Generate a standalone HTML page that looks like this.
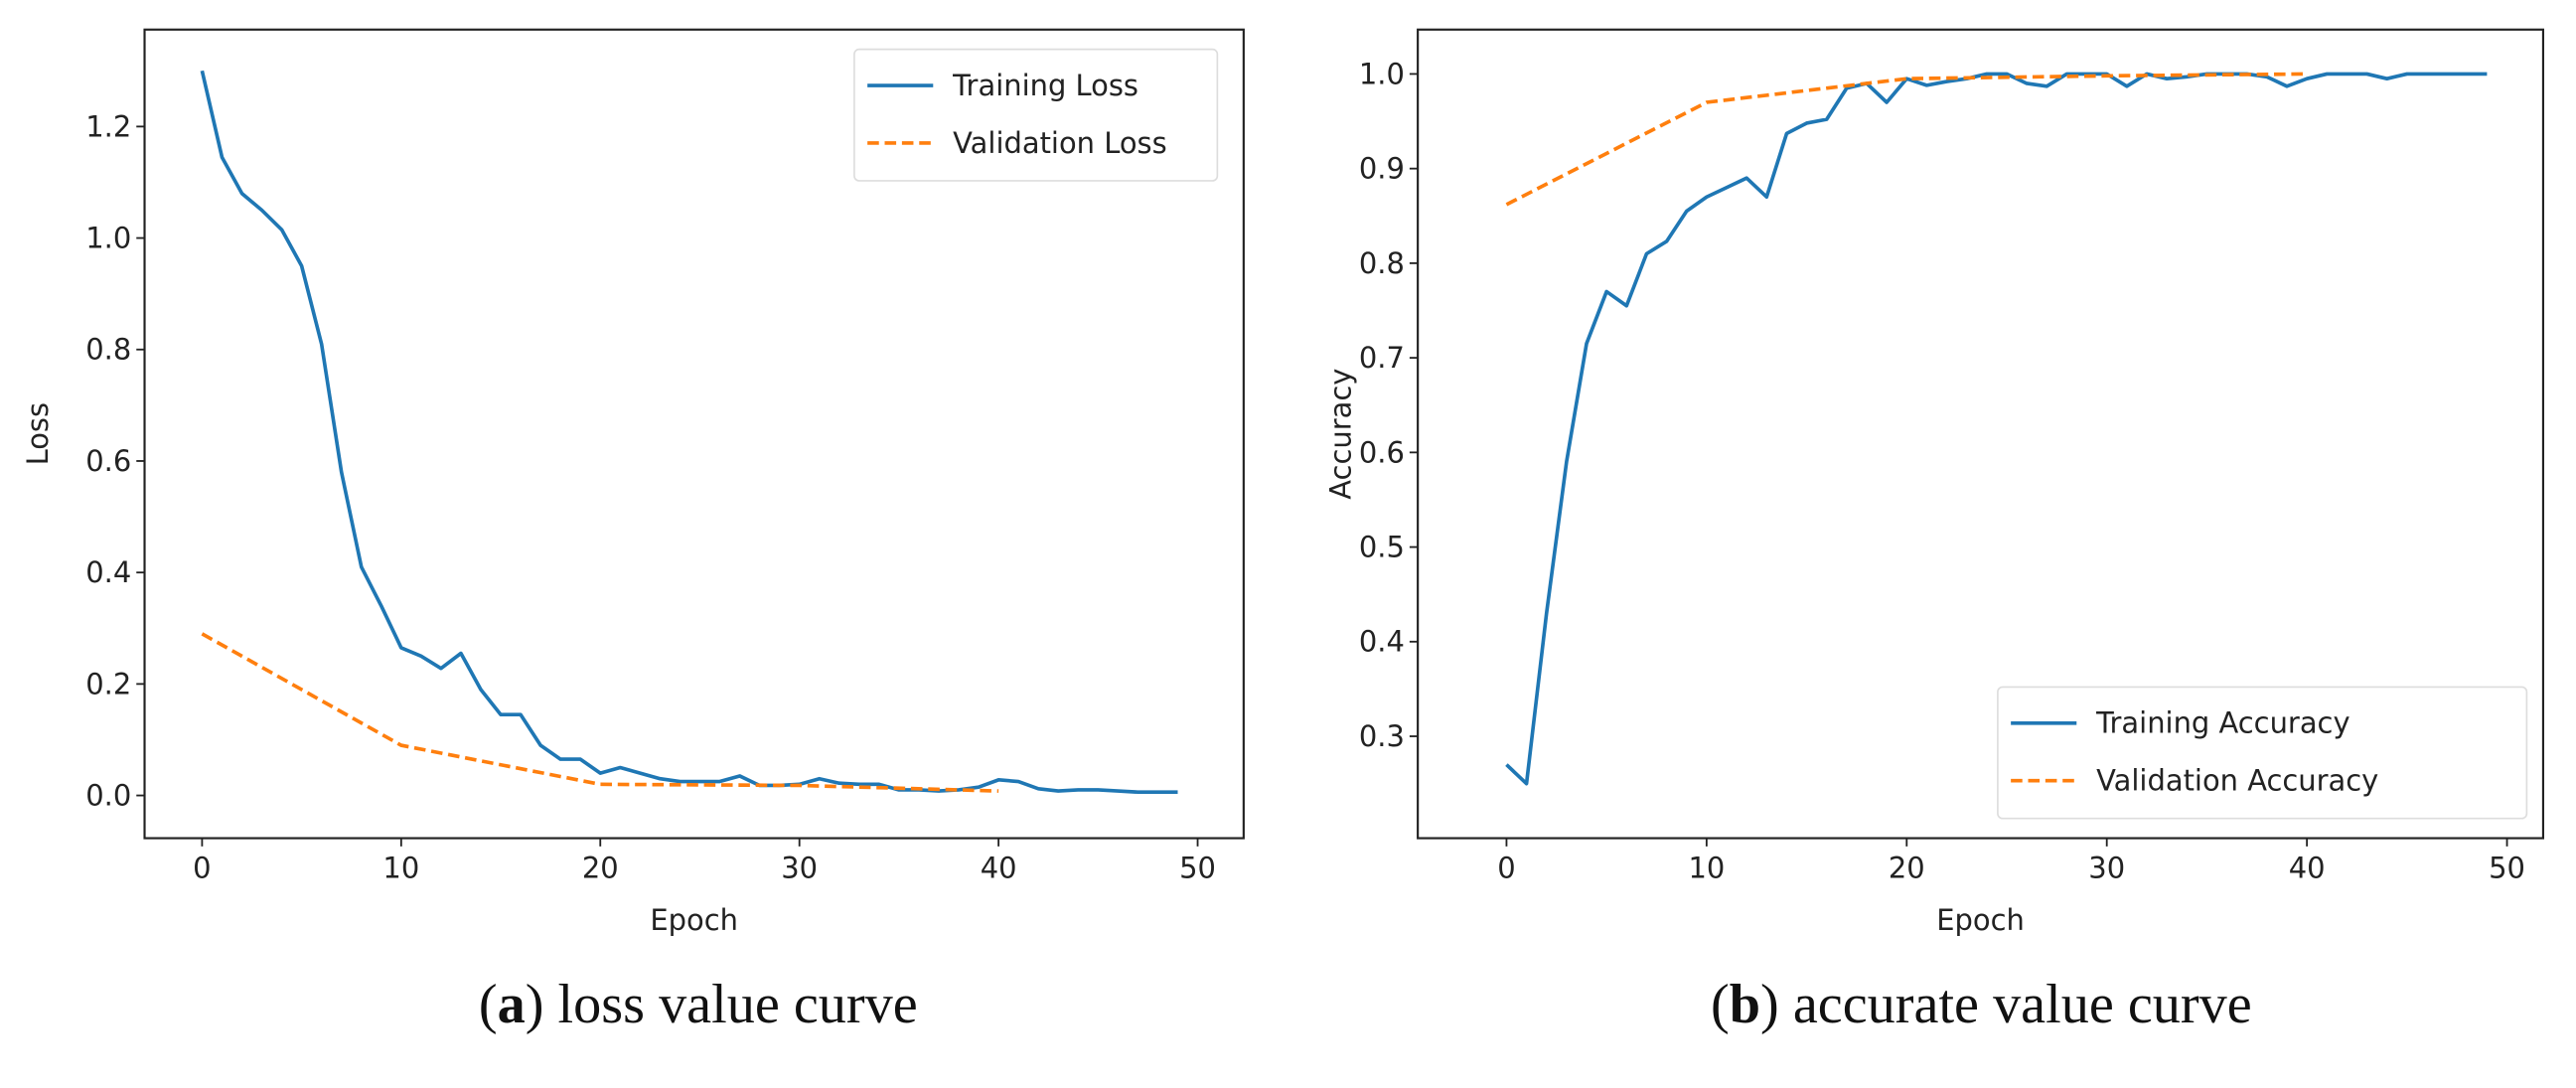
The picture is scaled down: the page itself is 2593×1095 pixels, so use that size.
<!DOCTYPE html>
<html><head><meta charset="utf-8"><style>
html,body{margin:0;padding:0;background:#fff;}
svg{display:block;}
text{font-family:"DejaVu Sans","Liberation Sans",sans-serif;fill:#222;}
.cap{font-family:"Liberation Serif",serif;fill:#111;}
</style></head><body>
<svg id="fig" width="2593" height="1095" viewBox="0 0 1568 662" preserveAspectRatio="none">
<g id="pa"></g>
<g id="pb"></g>
<text class="cap" x="425" y="622" font-size="34" text-anchor="middle">(<tspan font-weight="bold">a</tspan>) loss value curve</text>
<text class="cap" x="1206" y="622" font-size="34" text-anchor="middle">(<tspan font-weight="bold">b</tspan>) accurate value curve</text>
</svg>
<script>
const epochs = Array.from({length:50},(_,i)=>i);
const trainLoss = [1.30,1.145,1.08,1.05,1.015,0.95,0.81,0.58,0.41,0.34,0.265,0.25,0.228,0.255,0.19,0.145,0.145,0.09,0.065,0.065,0.04,0.05,0.04,0.03,0.025,0.025,0.025,0.035,0.018,0.018,0.02,0.03,0.022,0.02,0.02,0.01,0.01,0.008,0.01,0.015,0.028,0.025,0.012,0.008,0.01,0.01,0.008,0.006,0.006,0.006];
const valEpochs = [0,10,20,30,40];
const valLoss = [0.29,0.09,0.02,0.018,0.008];
const trainAcc = [0.27,0.25,0.43,0.59,0.715,0.77,0.755,0.81,0.823,0.855,0.87,0.88,0.89,0.87,0.937,0.948,0.952,0.985,0.99,0.97,0.995,0.988,0.992,0.995,1.0,1.0,0.99,0.987,1.0,1.0,1.0,0.987,1.0,0.995,0.997,1.0,1.0,1.0,0.997,0.987,0.995,1.0,1.0,1.0,0.995,1.0,1.0,1.0,1.0,1.0];
const valAcc = [0.862,0.97,0.995,0.998,1.0];
const xTicks = [0,10,20,30,40,50];
const lossTicks = [0,0.2,0.4,0.6,0.8,1.0,1.2];
const accTicks = [0.3,0.4,0.5,0.6,0.7,0.8,0.9,1.0];

const NS='http://www.w3.org/2000/svg';
function mk(parent,tag,attrs){const e=document.createElementNS(NS,tag);for(const k in attrs)e.setAttribute(k,attrs[k]);parent.appendChild(e);return e;}
const FS=17.5;
function chart(g,cfg){
  const {x0,x1,y0,y1,xa,xb,ya,yb}=cfg;
  const sx=v=>xa.p+(v-xa.v)*(xb.p-xa.p)/(xb.v-xa.v);
  const sy=v=>ya.p+(v-ya.v)*(yb.p-ya.p)/(yb.v-ya.v);
  const pathOf=(xs,ys)=>xs.map((x,i)=>(i?'L':'M')+sx(x).toFixed(2)+' '+sy(ys[i]).toFixed(2)).join(' ');
  const l1=mk(g,'path',{d:pathOf(cfg.tx,cfg.ty),fill:'none',stroke:'#1f77b4','stroke-width':2.2,'stroke-linejoin':'round'});
  
  
  const l2=mk(g,'path',{d:pathOf(cfg.vx,cfg.vy),fill:'none',stroke:'#ff7f0e','stroke-width':2.2,'stroke-dasharray':'7 3.5'});
  
  
  const fr=mk(g,'rect',{x:x0,y:y0,width:x1-x0,height:y1-y0,fill:'none',stroke:'#222','stroke-width':1.3});
  
  
  xTicks.forEach(v=>{
    mk(g,'line',{x1:sx(v),x2:sx(v),y1:y1,y2:y1+5,stroke:'#222','stroke-width':1.1});
    const t=mk(g,'text',{x:sx(v),y:y1+24,'font-size':FS,'text-anchor':'middle'});t.textContent=v;
    
    
  });
  cfg.yt.forEach(v=>{
    mk(g,'line',{x1:x0-5,x2:x0,y1:sy(v),y2:sy(v),stroke:'#222','stroke-width':1.1});
    const t=mk(g,'text',{x:x0-8,y:sy(v)+6,'font-size':FS,'text-anchor':'end'});t.textContent=v.toFixed(1);
    
    
  });
  const xt=mk(g,'text',{x:(x0+x1)/2,y:y1+56,'font-size':FS,'text-anchor':'middle'});xt.textContent='Epoch';
  
  
  const yt=mk(g,'text',{x:0,y:0,'font-size':FS,'text-anchor':'middle',transform:`translate(${cfg.ylx},${(y0+y1)/2}) rotate(-90)`});yt.textContent=cfg.ylabel;
  
  
  const L=cfg.leg;
  const lg=mk(g,'g',{});
  
  
  mk(lg,'rect',{x:L.x,y:L.y,width:L.w,height:L.h,rx:3,fill:'#fff',stroke:'#ddd','stroke-width':1});
  mk(lg,'line',{x1:L.x+8,x2:L.x+48,y1:L.y+22,y2:L.y+22,stroke:'#1f77b4','stroke-width':2.2});
  mk(lg,'line',{x1:L.x+8,x2:L.x+48,y1:L.y+57,y2:L.y+57,stroke:'#ff7f0e','stroke-width':2.2,'stroke-dasharray':'7 3.5'});
  const a=mk(lg,'text',{x:L.x+60,y:L.y+28,'font-size':FS});a.textContent=L.t1;
  
  
  const b=mk(lg,'text',{x:L.x+60,y:L.y+63,'font-size':FS});b.textContent=L.t2;
  
  
}
chart(document.getElementById('pa'),{x0:88,x1:757,y0:18,y1:510,xa:{v:0,p:123},xb:{v:50,p:729},ya:{v:0,p:484},yb:{v:1.2,p:77},
  tx:epochs,ty:trainLoss,vx:valEpochs,vy:valLoss,yt:lossTicks,ylabel:'Loss',ylx:29,
  leg:{x:520,y:30,w:221,h:80,t1:'Training Loss',t2:'Validation Loss'}});
chart(document.getElementById('pb'),{x0:863,x1:1548,y0:18,y1:510,xa:{v:0,p:917},xb:{v:50,p:1526},ya:{v:0.3,p:448},yb:{v:1.0,p:45},
  tx:epochs,ty:trainAcc,vx:valEpochs,vy:valAcc,yt:accTicks,ylabel:'Accuracy',ylx:822,
  leg:{x:1216,y:418,w:322,h:80,t1:'Training Accuracy',t2:'Validation Accuracy'}});
</script>
</body></html>
